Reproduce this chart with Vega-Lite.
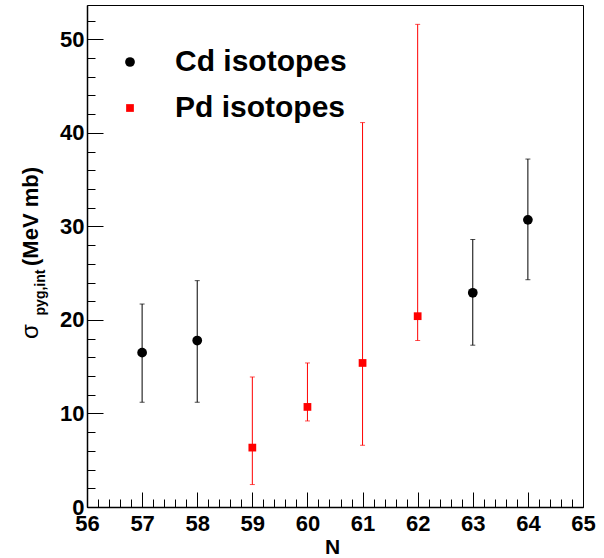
{
  "$schema": "https://vega.github.io/schema/vega-lite/v6.json",
  "autosize": "none",
  "padding": {"left": 87, "top": 5, "right": 21, "bottom": 51},
  "width": 496,
  "height": 502,
  "background": "white",
  "config": {
    "view": {"stroke": "black", "strokeWidth": 1},
    "axis": {
      "grid": false,
      "labelFont": "Liberation Sans",
      "labelFontWeight": "bold",
      "labelFontSize": 22,
      "labelColor": "black",
      "titleFont": "Liberation Sans",
      "titleColor": "black",
      "tickColor": "black",
      "tickWidth": 1,
      "domainColor": "black"
    },
    "legend": {
      "labelFont": "Liberation Sans",
      "labelFontWeight": "bold",
      "labelFontSize": 30,
      "labelColor": "black",
      "labelLimit": 0,
      "rowPadding": 16,
      "labelOffset": 30,
      "padding": 0,
      "symbolStrokeWidth": 0,
      "symbolOpacity": 1
    }
  },
  "data": {
    "values": [
      {"N": 57, "sigma": 16.5, "lo": 11.2, "hi": 21.7, "series": "Cd isotopes"},
      {"N": 58, "sigma": 17.8, "lo": 11.2, "hi": 24.2, "series": "Cd isotopes"},
      {"N": 59, "sigma": 6.35, "lo": 2.4, "hi": 13.9, "series": "Pd isotopes"},
      {"N": 60, "sigma": 10.7, "lo": 9.2, "hi": 15.4, "series": "Pd isotopes"},
      {"N": 61, "sigma": 15.4, "lo": 6.6, "hi": 41.1, "series": "Pd isotopes"},
      {"N": 62, "sigma": 20.4, "lo": 17.8, "hi": 51.6, "series": "Pd isotopes"},
      {"N": 63, "sigma": 22.9, "lo": 17.3, "hi": 28.6, "series": "Cd isotopes"},
      {"N": 64, "sigma": 30.7, "lo": 24.3, "hi": 37.2, "series": "Cd isotopes"}
    ]
  },
  "layer": [
    {
      "mark": {"type": "rule", "strokeWidth": 1},
      "encoding": {
        "x": {
          "field": "N", "type": "quantitative",
          "scale": {"domain": [56, 65], "nice": false, "zero": false},
          "axis": {
            "orient": "bottom",
            "values": [56, 57, 58, 59, 60, 61, 62, 63, 64, 65],
            "ticks": false, "tickSize": 0, "labelPadding": 6,
            "domain": true, "domainWidth": 1.5,
            "labelFlush": false, "labelOverlap": false,
            "title": "N", "titleFontSize": 21, "titleFontWeight": "bold",
            "titleX": 245, "titleY": 46, "titleBaseline": "alphabetic"
          }
        },
        "y": {
          "field": "lo", "type": "quantitative",
          "scale": {"domain": [0, 53.67], "nice": false},
          "axis": {
            "orient": "left",
            "values": [0, 10, 20, 30, 40, 50],
            "ticks": false, "tickSize": 0, "labelPadding": 3,
            "domain": true, "domainWidth": 1.5,
            "labelFlush": false, "labelOverlap": false,
            "title": "σ", "titleFontSize": 24, "titleFontWeight": "normal",
            "titleX": -50, "titleY": 326, "titleBaseline": "alphabetic", "titleAlign": "center", "titleAngle": 270
          }
        },
        "y2": {"field": "hi"},
        "color": {"field": "series", "type": "nominal", "scale": {"domain": ["Cd isotopes", "Pd isotopes"], "range": ["black", "red"]}}
      }
    },
    {
      "mark": {"type": "tick", "orient": "horizontal", "size": 5, "thickness": 1},
      "encoding": {
        "x": {
          "field": "N", "type": "quantitative",
          "axis": {
            "orient": "bottom",
            "values": [56, 57, 58, 59, 60, 61, 62, 63, 64, 65],
            "labels": false, "ticks": true, "tickSize": -15, "domain": false, "title": null
          }
        },
        "y": {
          "field": "lo", "type": "quantitative",
          "axis": {
            "orient": "left",
            "values": [0, 10, 20, 30, 40, 50],
            "labels": false, "ticks": true, "tickSize": -16, "domain": false,
            "title": "(MeV mb)", "titleFontSize": 22, "titleFontWeight": "bold",
            "titleX": -50, "titleY": 211, "titleBaseline": "alphabetic", "titleAlign": "center", "titleAngle": 270
          }
        },
        "color": {"field": "series", "type": "nominal"}
      }
    },
    {
      "mark": {"type": "tick", "orient": "horizontal", "size": 5, "thickness": 1},
      "encoding": {
        "x": {
          "field": "N", "type": "quantitative",
          "axis": {
            "orient": "bottom",
            "values": [56.2, 56.4, 56.6, 56.8, 57.2, 57.4, 57.6, 57.8, 58.2, 58.4, 58.6, 58.8, 59.2, 59.4, 59.6, 59.8, 60.2, 60.4, 60.6, 60.8, 61.2, 61.4, 61.6, 61.8, 62.2, 62.4, 62.6, 62.8, 63.2, 63.4, 63.6, 63.8, 64.2, 64.4, 64.6, 64.8],
            "labels": false, "ticks": true, "tickSize": -8, "domain": false, "title": null
          }
        },
        "y": {
          "field": "hi", "type": "quantitative",
          "axis": {
            "orient": "left",
            "values": [2, 4, 6, 8, 12, 14, 16, 18, 22, 24, 26, 28, 32, 34, 36, 38, 42, 44, 46, 48, 52],
            "labels": false, "ticks": true, "tickSize": -8, "domain": false,
            "title": "pyg,int", "titleFontSize": 14, "titleFontWeight": "bold",
            "titleX": -43, "titleY": 287, "titleBaseline": "alphabetic", "titleAlign": "center", "titleAngle": 270
          }
        },
        "color": {"field": "series", "type": "nominal"}
      }
    },
    {
      "mark": {"type": "point", "filled": true, "opacity": 1, "strokeWidth": 0},
      "encoding": {
        "x": {"field": "N", "type": "quantitative", "axis": null},
        "y": {"field": "sigma", "type": "quantitative", "axis": null},
        "color": {
          "field": "series", "type": "nominal",
          "legend": {"orient": "none", "legendX": 28, "legendY": 42, "title": null}
        },
        "shape": {
          "field": "series", "type": "nominal",
          "scale": {"domain": ["Cd isotopes", "Pd isotopes"], "range": ["circle", "square"]},
          "legend": {"orient": "none", "legendX": 28, "legendY": 42, "title": null}
        },
        "size": {
          "field": "series", "type": "nominal",
          "scale": {"domain": ["Cd isotopes", "Pd isotopes"], "range": [95, 60]},
          "legend": {"orient": "none", "legendX": 28, "legendY": 42, "title": null}
        }
      }
    }
  ],
  "resolve": {"axis": {"x": "independent", "y": "independent"}}
}
